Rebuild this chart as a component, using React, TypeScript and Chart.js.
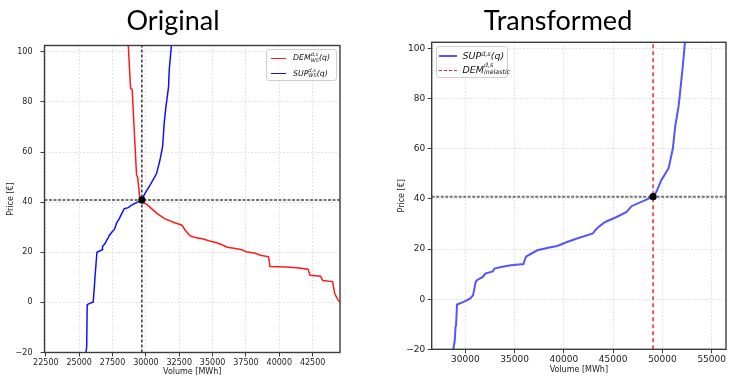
import { useEffect, useRef } from "react";
import { Chart, registerables } from "chart.js";

Chart.register(...registerables);

// ---- Original market: wholesale bid curves (volume MWh, price €/MWh) ----
const demandWsVolume = [
  28650, 28680, 28850, 28970, 29300, 29380, 29550, 29700, 29750, 30050, 30400, 30800, 31100, 31450,
  31800, 32050, 32500, 32700, 32950, 33300, 33600, 34300, 34700, 35300, 35700, 36100, 36600, 37200,
  37500, 38200, 38600, 39200, 39300, 40500, 41300, 42150, 42300, 43100, 43250, 44000, 44150, 44400,
  44550, 44650,
];
const demandWsPrice = [
  108, 102.7, 85.4, 85, 50.7, 50, 41.4, 40.9, 39.8, 39.2, 37.5, 35.6, 34.5, 33.2,
  32.6, 32, 31.2, 30.8, 28.8, 26.6, 26, 25.3, 24.6, 23.8, 23, 22, 21.6, 21,
  20.2, 19.6, 18.8, 18.2, 14.3, 14.1, 13.8, 13.2, 10.8, 10.4, 8.7, 8.3, 3.5, 1,
  0, -0.5,
];
const supplyWsVolume = [
  25470, 25500, 25560, 25600, 25630, 26050, 26120, 26220, 26330, 26720, 26750, 26950, 27050, 27150,
  27250, 27550, 27650, 27800, 28000, 28150, 28380, 28680, 28930, 29700, 29920, 30300, 30800, 31050,
  31250, 31380, 31500, 31600, 31700, 31750, 31920, 32000,
];
const supplyWsPrice = [
  -25, -20, -18, -1, -0.8, 0.2, 5, 12.5, 20, 21, 22.3, 23.6, 24.6, 25.5,
  26.7, 28.7, 29.2, 31.6, 33.3, 35, 37.4, 37.8, 38.8, 40.9, 43.4, 46.7, 51.4, 56.7,
  62, 72, 78, 82, 86, 92.7, 103, 108,
];

// ---- Transformed market: supply curve and inelastic demand ----
const supplyVolume = [
  28700, 28750, 28920, 29000, 29050, 29150, 29760, 30430, 30770, 30950, 31050, 31270, 31770, 32010,
  32780, 32950, 33620, 34630, 35900, 36050, 36200, 37300, 38400, 39320, 40320, 41330, 42940, 43180,
  43510, 44180, 45350, 46360, 46860, 49050, 49380, 49880, 50620, 51060, 51290, 51490, 51630, 51730,
  52060, 52290, 52350,
];
const supplyPrice = [
  -25, -20.5, -16.5, -11, -10.5, -2.1, -1.2, 0.1, 1.5, 5, 7, 7.8, 8.9, 10.2,
  11.1, 12.2, 12.8, 13.5, 14, 16, 17.1, 19.5, 20.5, 21.2, 22.8, 24.2, 26.2, 27.5,
  28.8, 30.8, 32.8, 34.8, 37.1, 40.9, 42.8, 47.5, 52.2, 60.2, 68.8, 73.5, 76.8, 80.2,
  92.8, 102.8, 108,
];
const inelasticDemandVolume = 49050;

// Market clearing points
const clearingOriginal = { volume: 29700, price: 40.9 };
const clearingTransformed = { volume: 49050, price: 40.9 };

// Axes
const priceRange = [-20, 102.5];
const priceTicks = [-20, 0, 20, 40, 60, 80, 100];
const originalVolumeRange = [22400, 44550];
const originalVolumeTicks = [22500, 25000, 27500, 30000, 32500, 35000, 37500, 40000, 42500];
const transformedVolumeRange = [26580, 56450];
const transformedVolumeTicks = [30000, 35000, 40000, 45000, 50000, 55000];

const FONT = "'DejaVu Sans', sans-serif";
const CANVAS_W = 365;
const CANVAS_H = 377;

const zip = (xs: number[], ys: number[]) => xs.map((x, i) => ({ x, y: ys[i] }));
const fmt = (v: number) => (v < 0 ? "\u2212" + Math.abs(v) : String(v));

const framePlugin = {
  id: "frame",
  afterDraw(chart: any) {
    const { ctx, chartArea: a } = chart;
    ctx.save();
    ctx.strokeStyle = "#3c3c3c";
    ctx.lineWidth = 1.4;
    ctx.strokeRect(a.left, a.top, a.right - a.left, a.bottom - a.top);
    ctx.restore();
  },
};

type Area = { left: number; right: number; top: number; bottom: number };

function makeConfig(p: {
  datasets: any[];
  xRange: number[];
  xTicks: number[];
  area: Area;
  tickSize: number;
  yTickPad: number;
  xTickPad: number;
  yTitlePad: number;
  xTitlePad: number;
}): any {
  const tickFont = { family: FONT, size: p.tickSize };
  const titleFont = { family: FONT, size: 8 };
  const grid = {
    color: "#d2d2d2",
    lineWidth: 0.8,
    tickLength: 4,
    tickColor: "#3c3c3c",
    tickWidth: 1,
  };
  return {
    type: "line",
    data: { datasets: p.datasets },
    plugins: [framePlugin],
    options: {
      animation: false,
      responsive: false,
      events: [],
      layout: {
        padding: { left: 0, top: p.area.top, right: CANVAS_W - p.area.right, bottom: 0 },
      },
      plugins: { legend: { display: false }, title: { display: false }, tooltip: { enabled: false } },
      elements: { point: { radius: 0 }, line: { tension: 0 } },
      scales: {
        x: {
          type: "linear",
          min: p.xRange[0],
          max: p.xRange[1],
          afterBuildTicks: (s: any) => {
            s.ticks = p.xTicks.map((value) => ({ value }));
          },
          afterFit: (s: any) => {
            s.height = CANVAS_H - p.area.bottom;
          },
          ticks: {
            font: tickFont,
            color: "#222",
            padding: p.xTickPad,
            maxRotation: 0,
            autoSkip: false,
            callback: (v: number) => fmt(v),
          },
          grid,
          border: { display: false, dash: [1.5, 2] },
          title: {
            display: true,
            text: "Volume [MWh]",
            font: titleFont,
            color: "#222",
            padding: { top: 0, bottom: p.xTitlePad },
          },
        },
        y: {
          type: "linear",
          min: priceRange[0],
          max: priceRange[1],
          afterBuildTicks: (s: any) => {
            s.ticks = priceTicks.map((value) => ({ value }));
          },
          afterFit: (s: any) => {
            s.width = p.area.left;
          },
          ticks: {
            font: tickFont,
            color: "#222",
            padding: p.yTickPad,
            autoSkip: false,
            callback: (v: number) => fmt(v),
          },
          grid,
          border: { display: false, dash: [1.5, 2] },
          title: {
            display: true,
            text: "Price [€]",
            font: titleFont,
            color: "#222",
            padding: { top: p.yTitlePad, bottom: 0 },
          },
        },
      },
    },
  };
}

function originalConfig() {
  const [x0, x1] = originalVolumeRange;
  return makeConfig({
    xRange: originalVolumeRange,
    xTicks: originalVolumeTicks,
    area: { left: 44.5, right: 340, top: 45.5, bottom: 352.5 },
    tickSize: 8,
    yTickPad: 8,
    xTickPad: 2,
    yTitlePad: 6,
    xTitlePad: 0.5,
    datasets: [
      {
        label: "clearing",
        data: [{ x: clearingOriginal.volume, y: clearingOriginal.price }],
        showLine: false,
        pointRadius: 3.6,
        pointBackgroundColor: "#000",
        pointBorderWidth: 0,
      },
      {
        label: "clearing volume",
        data: [
          { x: clearingOriginal.volume, y: priceRange[0] },
          { x: clearingOriginal.volume, y: priceRange[1] },
        ],
        borderColor: "#000",
        borderWidth: 1.2,
        borderDash: [3, 2],
      },
      {
        label: "clearing price",
        data: [
          { x: x0, y: clearingOriginal.price },
          { x: x1, y: clearingOriginal.price },
        ],
        borderColor: "rgba(80,80,80,0.8)",
        borderWidth: 2,
        borderDash: [3, 1.5],
      },
      {
        label: "DEM WS",
        data: zip(demandWsVolume, demandWsPrice),
        borderColor: "#ff1a1a",
        borderWidth: 1.5,
      },
      {
        label: "SUP WS",
        data: zip(supplyWsVolume, supplyWsPrice),
        borderColor: "#1010ff",
        borderWidth: 1.5,
      },
    ],
  });
}

function transformedConfig() {
  const [x0, x1] = transformedVolumeRange;
  return makeConfig({
    xRange: transformedVolumeRange,
    xTicks: transformedVolumeTicks,
    area: { left: 66.7, right: 364.3, top: 42.3, bottom: 349.3 },
    tickSize: 9,
    yTickPad: 2.5,
    xTickPad: 1,
    yTitlePad: 32,
    xTitlePad: 1.8,
    datasets: [
      {
        label: "clearing",
        data: [{ x: clearingTransformed.volume, y: clearingTransformed.price }],
        showLine: false,
        pointRadius: 3.6,
        pointBackgroundColor: "#000",
        pointBorderWidth: 0,
      },
      {
        label: "DEM inelastic",
        data: [
          { x: inelasticDemandVolume, y: priceRange[0] },
          { x: inelasticDemandVolume, y: priceRange[1] },
        ],
        borderColor: "#e61e1e",
        borderWidth: 1.4,
        borderDash: [4, 3],
      },
      {
        label: "clearing price",
        data: [
          { x: x0, y: clearingTransformed.price },
          { x: x1, y: clearingTransformed.price },
        ],
        borderColor: "rgba(80,80,80,0.8)",
        borderWidth: 2,
        borderDash: [3, 1.5],
      },
      {
        label: "SUP",
        data: zip(supplyVolume, supplyPrice),
        borderColor: "rgba(20,20,255,0.72)",
        borderWidth: 2,
      },
    ],
  });
}

function SupSub({ sup, sub }: { sup: string; sub?: string }) {
  if (!sub) {
    return <span style={{ fontSize: "0.68em", verticalAlign: "0.5em" }}>{sup}</span>;
  }
  return (
    <span
      style={{
        display: "inline-block",
        verticalAlign: "middle",
        fontSize: "0.66em",
        lineHeight: 1.05,
        marginTop: -2,
      }}
    >
      <span style={{ display: "block" }}>{sup}</span>
      <span style={{ display: "block" }}>{sub}</span>
    </span>
  );
}

function LegendRow({
  top,
  lineLeft,
  lineWidth,
  textLeft,
  color,
  dashed,
  thickness,
  children,
}: any) {
  return (
    <>
      <div
        style={{
          position: "absolute",
          left: lineLeft,
          top: top - thickness / 2,
          width: lineWidth,
          height: 0,
          borderTop: `${thickness}px ${dashed ? "dashed" : "solid"} ${color}`,
        }}
      />
      <div
        style={{
          position: "absolute",
          left: textLeft,
          top: top,
          transform: "translateY(-50%)",
          whiteSpace: "nowrap",
          fontStyle: "italic",
          lineHeight: 1,
        }}
      >
        {children}
      </div>
    </>
  );
}

const boxStyle = (left: number, top: number, w: number, h: number, size: number): any => ({
  position: "absolute",
  left,
  top,
  width: w,
  height: h,
  boxSizing: "border-box",
  background: "rgba(255,255,255,0.85)",
  border: "1px solid #d0d0d0",
  borderRadius: 3,
  fontFamily: FONT,
  fontSize: size,
  color: "#111",
});

const titleStyle = (center: number): any => ({
  position: "absolute",
  left: center - 120,
  width: 240,
  top: 6,
  textAlign: "center",
  fontFamily: "Lato, 'Open Sans', sans-serif",
  fontSize: 27,
  lineHeight: "27px",
  color: "#000",
});

export default function App() {
  const leftRef = useRef<HTMLCanvasElement>(null);
  const rightRef = useRef<HTMLCanvasElement>(null);

  useEffect(() => {
    const left = new Chart(leftRef.current as HTMLCanvasElement, originalConfig());
    const right = new Chart(rightRef.current as HTMLCanvasElement, transformedConfig());
    return () => {
      left.destroy();
      right.destroy();
    };
  }, []);

  return (
    <div
      style={{
        position: "fixed",
        left: 0,
        top: 0,
        width: 730,
        height: 377,
        background: "#fff",
        overflow: "hidden",
      }}
    >
      <canvas
        ref={leftRef}
        width={CANVAS_W}
        height={CANVAS_H}
        style={{ position: "absolute", left: 0, top: 0 }}
      />
      <canvas
        ref={rightRef}
        width={CANVAS_W}
        height={CANVAS_H}
        style={{ position: "absolute", left: 365, top: 0 }}
      />

      <div style={titleStyle(173)}>Original</div>
      <div style={titleStyle(558)}>Transformed</div>

      <div style={boxStyle(266, 49, 71, 32, 7.8)}>
        <LegendRow top={8.3} lineLeft={4} lineWidth={15} textLeft={26} color="#ff1a1a" thickness={1.5}>
          DEM
          <SupSub sup="d,s" sub="WS" />
          (q)
        </LegendRow>
        <LegendRow top={23.7} lineLeft={4} lineWidth={15} textLeft={26} color="#1010ff" thickness={1.5}>
          SUP
          <SupSub sup="d,s" sub="WS" />
          (q)
        </LegendRow>
      </div>

      <div style={boxStyle(436, 46, 72, 32, 9.5)}>
        <LegendRow
          top={9}
          lineLeft={2}
          lineWidth={18}
          textLeft={25.5}
          color="rgba(20,20,255,0.72)"
          thickness={2}
        >
          SUP
          <SupSub sup="d,s" />
          (q)
        </LegendRow>
        <LegendRow top={23.3} lineLeft={2} lineWidth={18} textLeft={25.5} color="#e61e1e" dashed thickness={1.4}>
          DEM
          <SupSub sup="d,s" sub="inelastic" />
        </LegendRow>
      </div>
    </div>
  );
}
